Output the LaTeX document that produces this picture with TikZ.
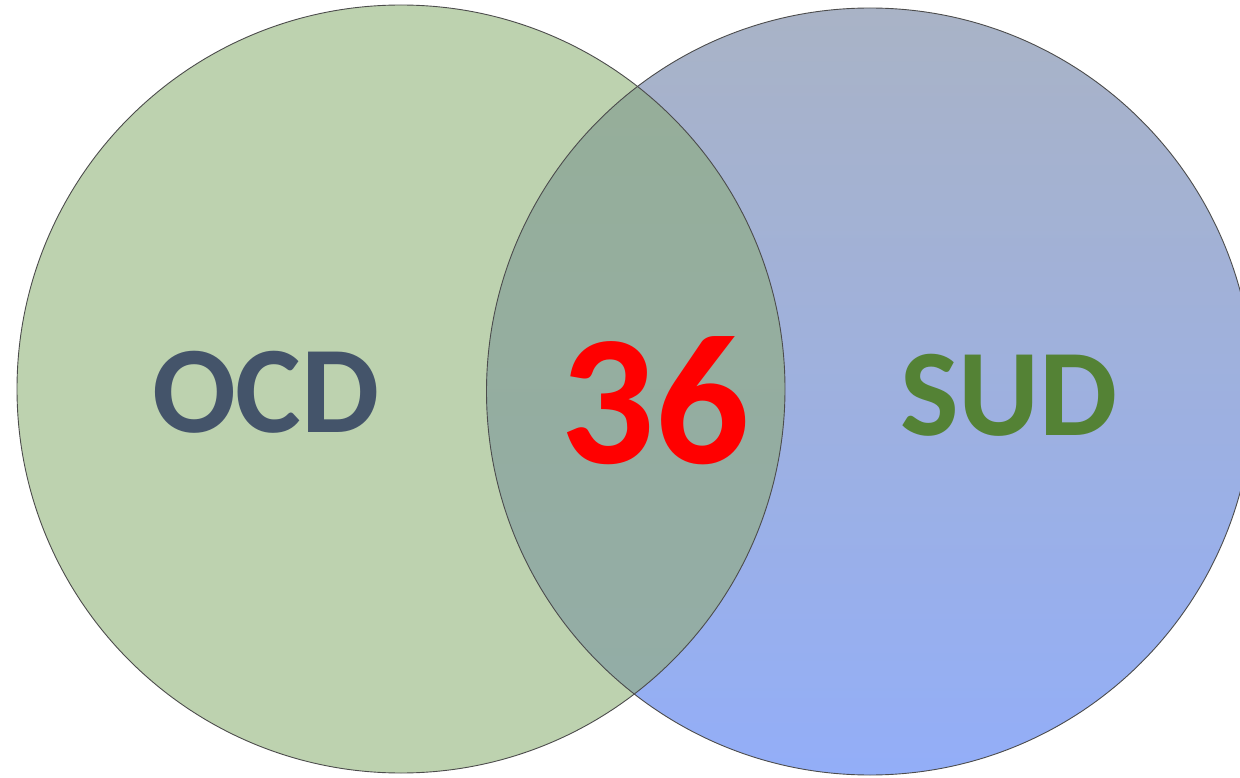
\documentclass[tikz,border=0pt]{standalone}
\usepackage{fontspec}
\setmainfont{Carlito}
\usepackage{tikz}
\definecolor{ocdfill}{RGB}{189,210,175}
\definecolor{sudtop}{RGB}{169,179,198}
\definecolor{sudbot}{RGB}{147,174,248}
\definecolor{captop}{RGB}{150,174,152}
\definecolor{capbot}{RGB}{147,173,168}
\definecolor{ocdtext}{RGB}{68,84,106}
\definecolor{sudtext}{RGB}{84,130,53}
\tikzset{
  rim/.style      = {draw=black!70, line width=0.9pt},
  setlabel/.style = {font=\bfseries\fontsize{124}{124}\selectfont, inner sep=0pt, anchor=center},
  countlbl/.style = {font=\bfseries\fontsize{186}{186}\selectfont, inner sep=0pt, anchor=center, red}
}

\begin{document}
\begin{tikzpicture}[x=1pt,y=-1pt]
  \useasboundingbox (0,0) rectangle (1240,778);
  \clip (0,0) rectangle (1240,778);
  \fill[ocdfill] (401,389) circle (384);
  \shade[top color=sudtop,bottom color=sudbot] (870,391.5) circle (383.5);
  \begin{scope}
    \clip (401,389) circle (384);
    \shade[top color=captop,bottom color=capbot] (870,391.5) circle (383.5);
  \end{scope}
  \draw[rim] (401,389) circle (384);
  \draw[rim] (870,391.5) circle (383.5);
  \node[setlabel,ocdtext] (ocd) at (266,392) {OCD};
  \node[countlbl] (both) at (655,401) {36};
  \node[setlabel,sudtext] (sud) at (1009,395) {SUD};
\end{tikzpicture}
\end{document}
